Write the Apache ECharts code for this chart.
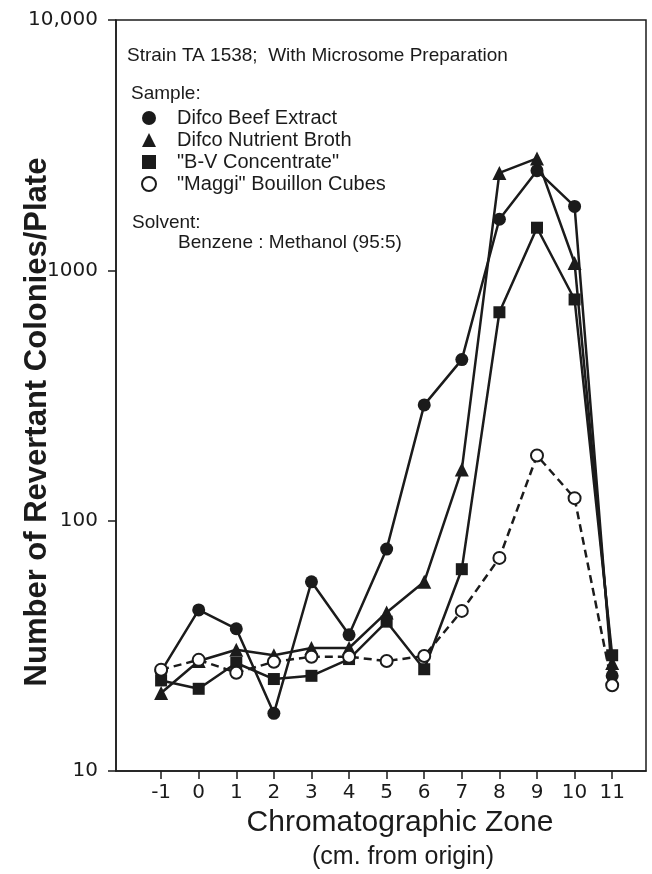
<!DOCTYPE html>
<html>
<head>
<meta charset="utf-8">
<script src="https://cdn.jsdelivr.net/npm/echarts@6/dist/echarts.min.js"></script>
<style>
html, body { margin: 0; padding: 0; background: #fff; }
#chart { width: 652px; height: 874px; }
</style>
</head>
<body>
<div id="chart"></div>
<script>
// chromatographic zone (cm. from origin)
var zones = [-1, 0, 1, 2, 3, 4, 5, 6, 7, 8, 9, 10, 11]
// revertant colonies / plate, one list per sample
var beefExtract = [25, 44, 37, 17, 57, 35, 77, 290, 440, 1600, 2500, 1800, 24]
var nutrientBroth = [20.5, 27.5, 30.5, 29, 31, 31, 43, 57, 160, 2450, 2800, 1070, 27]
var bvConcentrate = [23, 21.3, 27, 23.3, 24, 28, 39.5, 25.5, 64, 680, 1480, 765, 29]
var maggiCubes = [25.4, 27.8, 24.7, 27.3, 28.6, 28.6, 27.5, 28.8, 43.6, 71, 182, 123, 22]
var yTicks = [10, 100, 1000, 10000]
var sampleNames = ['Difco Beef Extract', 'Difco Nutrient Broth', '"B-V Concentrate"', '"Maggi" Bouillon Cubes']

var ink = '#1b1b1b'
var font = 'Liberation Sans'
var numFont = 'DejaVu Sans'

function pairs(values) {
  return zones.map(function (z, i) { return [z, values[i]] })
}

function lineSeries(name, values, symbol, size, dashed) {
  return {
    name: name,
    type: 'line',
    data: pairs(values),
    symbol: symbol,
    symbolSize: size,
    lineStyle: { color: ink, width: 2.5, type: dashed ? [8, 5] : 'solid' },
    itemStyle: dashed
      ? { color: '#fff', borderColor: ink, borderWidth: 2 }
      : { color: ink, borderColor: ink, borderWidth: 0 },
    emphasis: { disabled: true },
    animation: false
  }
}

function note(text, left, top) {
  return {
    text: text, left: left, top: top,
    textStyle: { fontFamily: font, fontSize: 19, fontWeight: 'normal', color: ink }
  }
}

var chart = echarts.init(document.getElementById('chart'))
var option = {
  backgroundColor: '#fff',
  grid: {
    left: 116, right: 6, top: 20, bottom: 103,
    show: true, borderColor: ink, borderWidth: 1.5
  },
  title: [
    note('Strain TA 1538;  With Microsome Preparation', 122, 41),
    note('Sample:', 126, 79),
    note('Solvent:', 127, 208),
    note('Benzene : Methanol (95:5)', 173, 228),
    { text: 'Chromatographic Zone', left: 395, top: 803, textAlign: 'center',
      textStyle: { fontFamily: font, fontSize: 30, fontWeight: 'normal', color: ink } },
    { text: '(cm. from origin)', left: 398, top: 840, textAlign: 'center',
      textStyle: { fontFamily: font, fontSize: 25, fontWeight: 'normal', color: ink } }
  ],
  graphic: [{
    type: 'text', x: 37, y: 422, rotation: Math.PI / 2,
    style: {
      text: 'Number of Revertant Colonies/Plate', fill: ink,
      font: 'bold 31px "' + font + '"', align: 'center', verticalAlign: 'middle'
    }
  }],
  legend: {
    orient: 'vertical', left: 136, top: 103,
    itemWidth: 14, itemHeight: 14, itemGap: 2,
    selectedMode: false,
    textStyle: { fontFamily: font, fontSize: 20, lineHeight: 16, color: ink, padding: [0, 0, 0, 16] },
    data: [
      { name: sampleNames[0], icon: 'circle', itemStyle: { color: ink, borderWidth: 0 } },
      { name: sampleNames[1], icon: 'triangle', itemStyle: { color: ink, borderWidth: 0 } },
      { name: sampleNames[2], icon: 'rect', itemStyle: { color: ink, borderWidth: 0 } },
      { name: sampleNames[3], icon: 'circle', itemStyle: { color: '#fff', borderColor: ink, borderWidth: 2 } }
    ]
  },
  xAxis: {
    type: 'value', min: -2.2, max: 11.9,
    splitLine: { show: false },
    axisLine: { lineStyle: { color: ink, width: 1.5 } },
    axisTick: { customValues: zones, length: 8, inside: false, lineStyle: { color: ink, width: 1.5 } },
    axisLabel: { customValues: zones, margin: 12, fontFamily: numFont, fontSize: 20, color: ink }
  },
  yAxis: {
    type: 'log', logBase: 10, min: 10, max: 10000,
    splitLine: { show: false },
    axisLine: { onZero: false, lineStyle: { color: ink, width: 1.5 } },
    axisTick: { length: 8, lineStyle: { color: ink, width: 1.5 } },
    axisLabel: {
      margin: 18, fontFamily: numFont, fontSize: 20, color: ink,
      formatter: function (v) { return v === yTicks[3] ? '10,000' : String(v) }
    }
  },
  series: [
    lineSeries(sampleNames[0], beefExtract, 'circle', 13, false),
    lineSeries(sampleNames[1], nutrientBroth, 'triangle', 14, false),
    lineSeries(sampleNames[2], bvConcentrate, 'rect', 12, false),
    lineSeries(sampleNames[3], maggiCubes, 'circle', 12, true)
  ]
}
chart.setOption(option)
</script>
</body>
</html>
